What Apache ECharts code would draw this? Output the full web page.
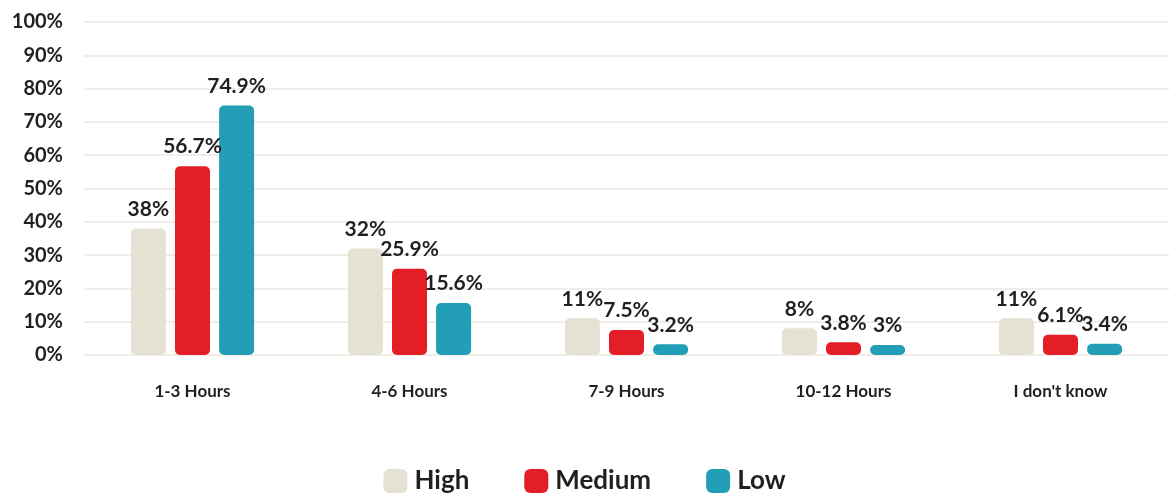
<!DOCTYPE html>
<html>
<head>
<meta charset="utf-8">
<script src="https://cdn.jsdelivr.net/npm/echarts@6/dist/echarts.min.js"></script>
<style>
  html, body { margin: 0; padding: 0; background: #ffffff; }
  #chart { width: 1169px; height: 497px; }
</style>
</head>
<body>
<div id="chart"></div>
<script>
// Hours per day, share of respondents by usage level
const categories = ['1-3 Hours', '4-6 Hours', '7-9 Hours', '10-12 Hours', "I don't know"];
const highValues = [38, 32, 11, 8, 11];
const mediumValues = [56.7, 25.9, 7.5, 3.8, 6.1];
const lowValues = [74.9, 15.6, 3.2, 3, 3.4];
const seriesNames = ['High', 'Medium', 'Low'];
const seriesColors = ['#e5e1d3', '#e31e26', '#229fb6'];

const FONT = 'Lato, "Open Sans", sans-serif';
const TEXT = '#231f20';

function barSeries(name, values, color) {
  return {
    name: name,
    type: 'bar',
    data: values,
    barWidth: 35,
    barGap: '26%',
    itemStyle: { color: color, borderRadius: 5 },
    label: {
      show: true,
      position: 'top',
      distance: 9,
      formatter: p => p.value + '%',
      fontFamily: FONT,
      fontWeight: 'bold',
      fontSize: 21,
      color: TEXT
    }
  };
}

const chart = echarts.init(document.getElementById('chart'), null, { renderer: 'canvas' });
chart.setOption({
  animation: false,
  backgroundColor: '#ffffff',
  grid: { left: 84, right: 0, top: 22, bottom: 142, containLabel: false },
  legend: {
    bottom: -2,
    left: 'center',
    itemWidth: 24,
    itemHeight: 24,
    itemGap: 55,
    icon: 'roundRect',
    textStyle: { fontFamily: FONT, fontWeight: 'bold', fontSize: 26, color: TEXT, padding: [0, 0, 0, 2] },
    data: seriesNames
  },
  xAxis: {
    type: 'category',
    data: categories,
    axisLine: { show: false },
    axisTick: { show: false },
    axisLabel: { margin: 28, fontFamily: FONT, fontWeight: 'bold', fontSize: 17, color: TEXT }
  },
  yAxis: {
    type: 'value',
    min: 0,
    max: 100,
    interval: 10,
    axisLine: { show: false },
    axisTick: { show: false },
    axisLabel: {
      margin: 21,
      formatter: '{value}%',
      fontFamily: FONT,
      fontWeight: 'bold',
      fontSize: 20,
      color: TEXT
    },
    splitLine: { lineStyle: { color: '#ece9df', width: 1.5 } }
  },
  series: [
    barSeries(seriesNames[0], highValues, seriesColors[0]),
    barSeries(seriesNames[1], mediumValues, seriesColors[1]),
    barSeries(seriesNames[2], lowValues, seriesColors[2])
  ]
});
</script>
</body>
</html>
